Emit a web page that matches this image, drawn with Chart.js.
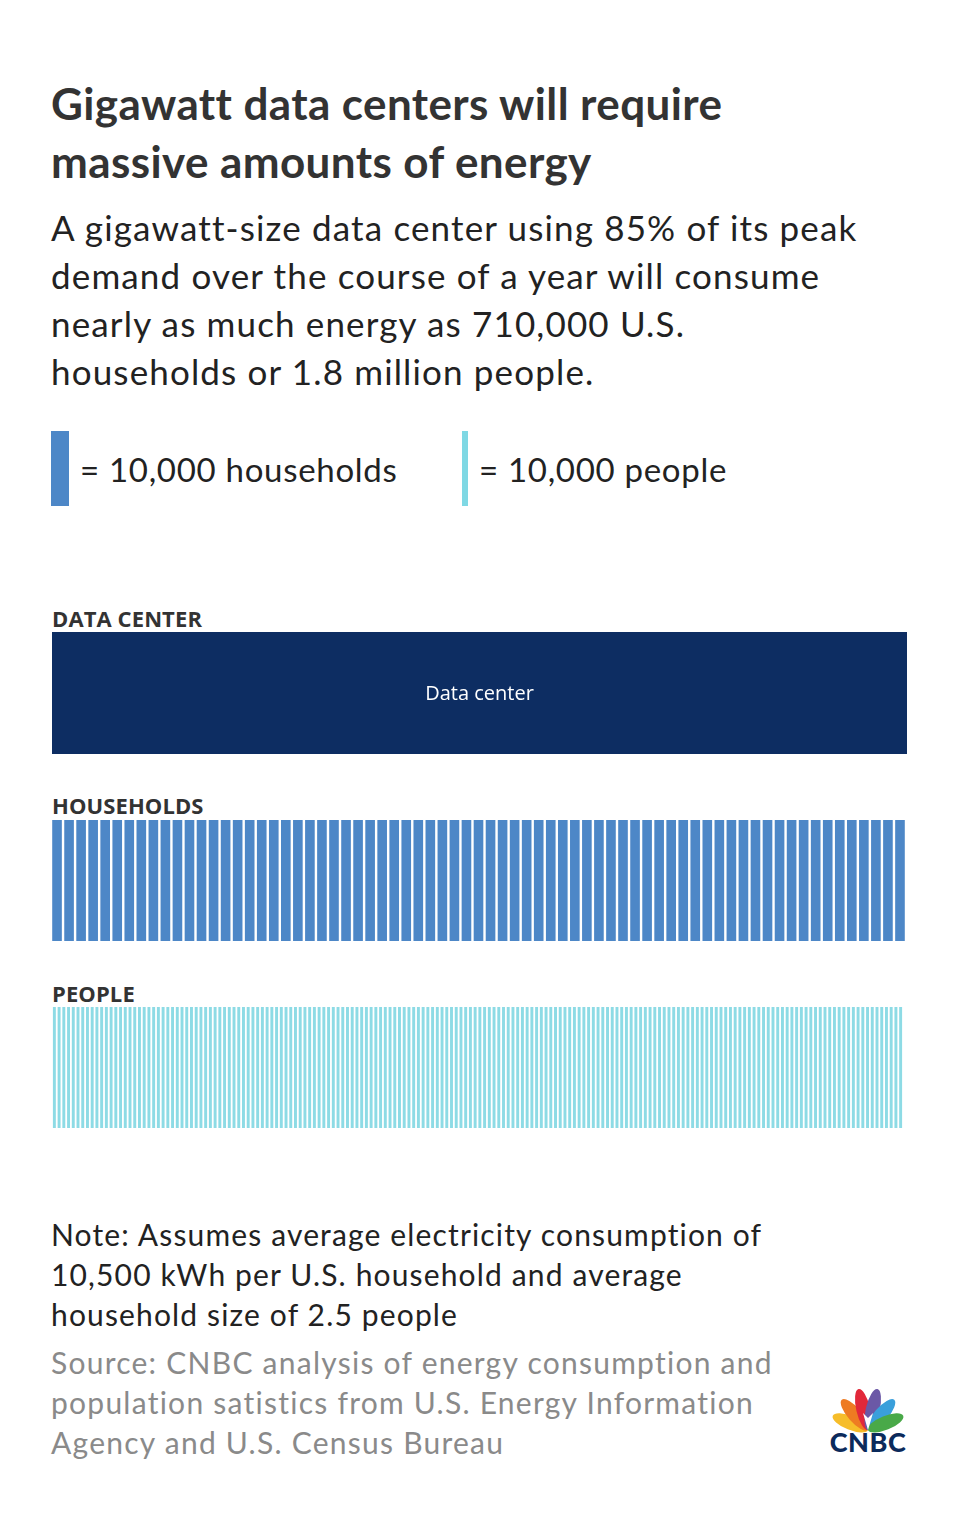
<!DOCTYPE html>
<html>
<head>
<meta charset="utf-8">
<script src="https://cdn.jsdelivr.net/npm/chart.js@4.4.1/dist/chart.umd.min.js"></script>
<style>
  html, body { margin: 0; padding: 0; background: #fff; }
  body { width: 970px; height: 1530px; position: relative; overflow: hidden; font-family: Lato, "Open Sans", sans-serif; color: #333; }
  .abs { position: absolute; white-space: nowrap; }
  #title { left: 51px; top: 74px; font-size: 44px; line-height: 58px; font-weight: 700; color: #333; letter-spacing: 0.4px; }
  #subtitle { left: 51px; top: 203px; font-size: 35px; line-height: 48px; color: #222; letter-spacing: 1.15px; }
  .legtxt { top: 449px; font-size: 33px; line-height: 40px; color: #222; letter-spacing: 0.7px; }
  .rowlabel { left: 52px; font-family: "Open Sans", sans-serif; font-weight: 700; font-size: 22px; line-height: 30px; color: #333; letter-spacing: 0.1px; }
  #note { left: 51px; top: 1214px; font-size: 30px; line-height: 40px; color: #222; letter-spacing: 1.15px; }
  #source { left: 51px; top: 1342px; font-size: 30px; line-height: 40px; color: #8a8a8a; letter-spacing: 1.25px; }
  canvas { position: absolute; }
</style>
</head>
<body>

<div id="title" class="abs">Gigawatt data centers will require<br>massive amounts of energy</div>
<div id="subtitle" class="abs">A gigawatt-size data center using 85% of its peak<br>demand over the course of a year will consume<br>nearly as much energy as 710,000 U.S.<br>households or 1.8 million people.</div>

<div class="abs" style="left:51px;top:431px;width:18px;height:75px;background:#4d87c7;"></div>
<div class="abs legtxt" style="left:80px;">= 10,000 households</div>
<div class="abs" style="left:462px;top:431px;width:6px;height:75px;background:#7fd8e4;"></div>
<div class="abs legtxt" style="left:479px;">= 10,000 people</div>

<div class="abs rowlabel" style="top:603px;">DATA CENTER</div>
<canvas id="dcChart" width="855" height="122" style="left:52px;top:632px;"></canvas>

<div class="abs rowlabel" style="top:790px;">HOUSEHOLDS</div>
<canvas id="hhChart" width="855" height="121" style="left:51px;top:820px;"></canvas>

<div class="abs rowlabel" style="top:978px;">PEOPLE</div>
<canvas id="ppChart" width="851" height="121" style="left:51.5px;top:1007px;"></canvas>

<div id="note" class="abs">Note: Assumes average electricity consumption of<br>10,500 kWh per U.S. household and average<br>household size of 2.5 people</div>
<div id="source" class="abs">Source: CNBC analysis of energy consumption and<br>population satistics from U.S. Energy Information<br>Agency and U.S. Census Bureau</div>

<svg class="abs" style="left:818px;top:1376px;" width="100" height="84" viewBox="0 0 100 84">
  <g transform="translate(50,54)">
    <ellipse cx="0" cy="-19" rx="7" ry="19" fill="#f6bd2a" transform="rotate(-68)"/>
    <ellipse cx="0" cy="-20" rx="7" ry="20" fill="#ee7b22" transform="rotate(-41)"/>
    <ellipse cx="0" cy="-21" rx="7" ry="21" fill="#e2283a" transform="rotate(-13)"/>
    <ellipse cx="0" cy="-21" rx="7" ry="21" fill="#6b58a6" transform="rotate(13)"/>
    <ellipse cx="0" cy="-20" rx="7" ry="20" fill="#3a9fdb" transform="rotate(41)"/>
    <ellipse cx="0" cy="-19" rx="7" ry="19" fill="#49a948" transform="rotate(68)"/>
    <path d="M0,0 L-5,-17 L0,-12 L5,-17 Z" fill="#fff"/>
  </g>
  <text x="50" y="76" text-anchor="middle" font-family="Lato, sans-serif" font-weight="900" font-size="27" letter-spacing="0.5" fill="#0b2a5b">CNBC</text>
</svg>

<script>
// nilai yang dibaca dari gambar
const rowNames = ['Data center', 'Households', 'People'];
const rowTotals = [1, 710000, 1800000];
const unitSizes = [1, 10000, 10000];
const rowColors = ['#0d2d62', '#4d87c7', '#8ddbe5'];

Chart.defaults.devicePixelRatio = 1;

// label putih di tengah bar data center
const centerLabel = {
    id: 'centerLabel',
    afterDatasetsDraw(chart, args, opts) {
        if (!opts.text) return;
        const { ctx, chartArea } = chart;
        ctx.save();
        ctx.fillStyle = '#ffffff';
        ctx.font = '20px "Open Sans", sans-serif';
        ctx.textAlign = 'center';
        ctx.textBaseline = 'middle';
        ctx.fillText(opts.text, (chartArea.left + chartArea.right) / 2, (chartArea.top + chartArea.bottom) / 2 + 1);
        ctx.restore();
    }
};

function buildRow(canvasId, idx, barPct, text) {
    const units = Math.round(rowTotals[idx] / unitSizes[idx]);
    const labels = Array.from({ length: units }, (_, i) => i + 1);
    const values = labels.map(() => 1);
    return new Chart(document.getElementById(canvasId), {
        type: 'bar',
        data: {
            labels: labels,
            datasets: [{
                label: rowNames[idx],
                data: values,
                backgroundColor: rowColors[idx],
                borderWidth: 0,
                barPercentage: barPct,
                categoryPercentage: 1
            }]
        },
        options: {
            responsive: false,
            animation: false,
            layout: { padding: 0 },
            scales: {
                x: { display: false, offset: true },
                y: { display: false, min: 0, max: 1 }
            },
            plugins: {
                legend: { display: false },
                tooltip: { enabled: false },
                centerLabel: { text: text }
            }
        },
        plugins: [centerLabel]
    });
}

buildRow('dcChart', 0, 1, 'Data center');
buildRow('hhChart', 1, 0.8, '');
buildRow('ppChart', 2, 0.62, '');
</script>
</body>
</html>
